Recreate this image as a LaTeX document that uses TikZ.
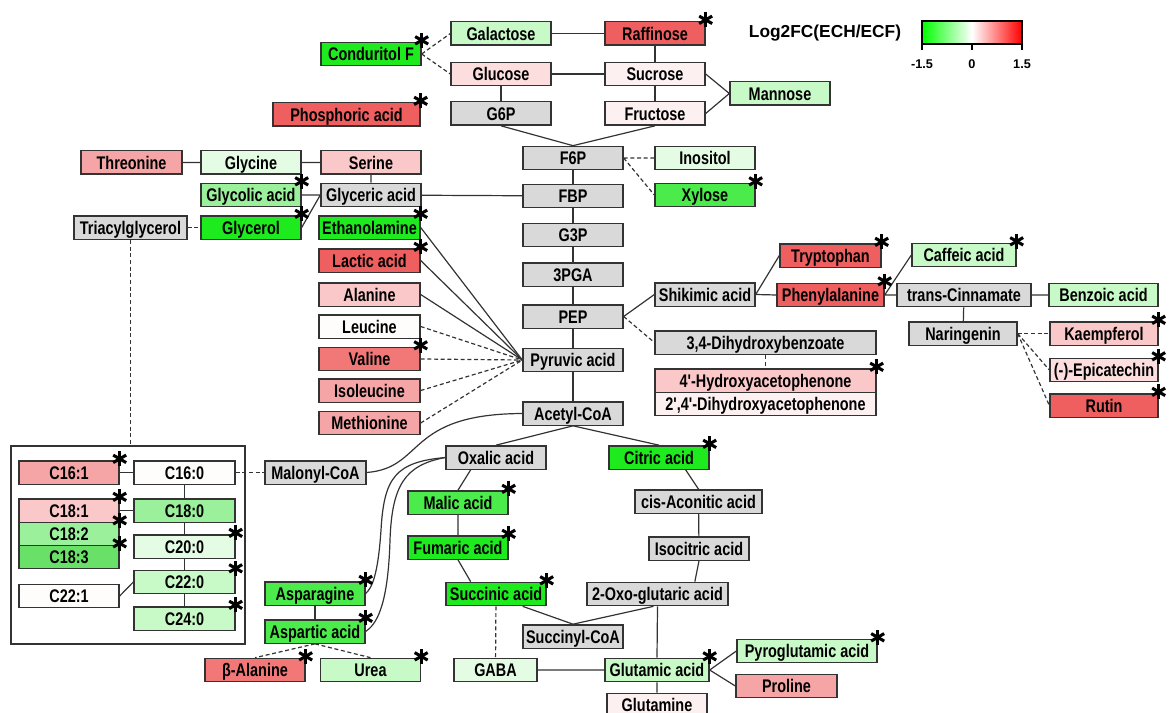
\documentclass[tikz,border=0pt]{standalone}
\usepackage{fontspec}
\setmainfont{Liberation Sans}
\newfontfamily\boxfont[FakeStretch=0.79]{Liberation Sans}

\definecolor{cgray}{RGB}{217,217,217}
\definecolor{gA}{RGB}{30,235,30}
\definecolor{gB}{RGB}{75,235,75}
\definecolor{gC}{RGB}{105,225,105}
\definecolor{gD}{RGB}{155,240,155}
\definecolor{gE}{RGB}{200,250,200}
\definecolor{gF}{RGB}{228,252,228}
\definecolor{rA}{RGB}{240,95,95}
\definecolor{rB}{RGB}{242,120,120}
\definecolor{rC}{RGB}{245,165,165}
\definecolor{rD}{RGB}{250,200,200}
\definecolor{rE}{RGB}{252,222,222}
\definecolor{rF}{RGB}{253,240,240}
\definecolor{wA}{RGB}{255,252,252}

\tikzset{
  mb/.style={draw=black!80, line width=1pt, inner sep=0pt, minimum width=75pt,
    minimum height=17.5pt, text height=9.8pt, text depth=0pt,
    font=\boxfont\bfseries\fontsize{13.7}{15}\selectfont},
  wd/.style={minimum width=#1*0.75pt},
  ln/.style={line width=0.9pt, black!80},
  dl/.style={ln, dash pattern=on 3pt off 2pt},
  sigline/.style={line width=2.3pt},
}
% significance mark at the upper right corner of a box
\newcommand{\sig}[1]{\foreach \a in {90,30,150}
  \draw[sigline] ([yshift=1pt]#1.north east) +(\a:7.5) -- +(\a+180:7.5);}

\begin{document}
\begin{tikzpicture}[x=0.75pt, y=-0.75pt]
  \clip (0,0) rectangle (1174,713);

  % Legend
  \node[font=\bfseries\fontsize{13}{15}\selectfont] (lgd) at (825,33) {Log2FC(ECH/ECF)};
  \shade[left color=green, right color=red, middle color=white] (922,21) rectangle (1022,44);
  \draw[line width=1pt] (922,21) rectangle (1022,44);
  \foreach \x/\lab in {922/-1.5, 972/0, 1022/1.5} {
    \draw[line width=1pt] (\x,44) -- (\x,50);
    \node[font=\bfseries\fontsize{9.5}{11}\selectfont] (t\x) at (\x,64) {\lab};
  }

  % Sugars
  \node[mb, fill=gE] (gal) at (501,33.5) {Galactose};
  \node[mb, fill=rA] (raf) at (655,33.5) {Raffinose};
  \node[mb, fill=gA] (cdf) at (371,54) {Conduritol F};
  \node[mb, fill=rE] (glc) at (501,74) {Glucose};
  \node[mb, fill=rF] (suc) at (655,74) {Sucrose};
  \node[mb, fill=gE] (man) at (780,93.5) {Mannose};
  \node[mb, fill=rA, wd=147] (pho) at (346.5,114.5) {Phosphoric acid};
  \node[mb, fill=cgray] (g6p) at (501,113.5) {G6P};
  \node[mb, fill=rF] (fru) at (655,113.5) {Fructose};

  % Glycolysis
  \node[mb, fill=cgray] (f6p) at (573,158) {F6P};
  \node[mb, fill=cgray] (fbp) at (573,196) {FBP};
  \node[mb, fill=cgray] (g3p) at (573,235) {G3P};
  \node[mb, fill=cgray] (pga) at (573,274.5) {3PGA};
  \node[mb, fill=cgray] (pep) at (573,316.5) {PEP};
  \node[mb, fill=cgray] (pyr) at (573,360) {Pyruvic acid};
  \node[mb, fill=cgray] (aco) at (573,413.5) {Acetyl-CoA};
  \node[mb, fill=gF] (ino) at (705,158) {Inositol};
  \node[mb, fill=gB] (xyl) at (705,195) {Xylose};

  % Amino acids, left side
  \node[mb, fill=rC, wd=101] (thr) at (131.5,162.5) {Threonine};
  \node[mb, fill=gF] (gly) at (251,162.5) {Glycine};
  \node[mb, fill=rD] (ser) at (371,162.5) {Serine};
  \node[mb, fill=gD] (gla) at (251,195) {Glycolic acid};
  \node[mb, fill=cgray] (gra) at (371,195) {Glyceric acid};
  \node[mb, fill=cgray, wd=113] (tag) at (130.5,227.5) {Triacylglycerol};
  \node[mb, fill=gA] (glo) at (251,227.5) {Glycerol};
  \node[mb, fill=gA, wd=101] (eta) at (369.5,227.5) {Ethanolamine};
  \node[mb, fill=rA, wd=101] (lac) at (369.5,260.5) {Lactic acid};
  \node[mb, fill=rD, wd=101] (ala) at (369.5,294.5) {Alanine};
  \node[mb, fill=wA, wd=101] (leu) at (369.5,326.5) {Leucine};
  \node[mb, fill=rB, wd=101] (val) at (369.5,359) {Valine};
  \node[mb, fill=rC, wd=101] (ile) at (369.5,390.5) {Isoleucine};
  \node[mb, fill=rC, wd=101] (met) at (369.5,423) {Methionine};

  % Shikimate and phenylpropanoids
  \node[mb, fill=rA, wd=101] (trp) at (830.5,255.5) {Tryptophan};
  \node[mb, fill=cgray] (shk) at (705,294.5) {Shikimic acid};
  \node[mb, fill=rA, wd=107] (phe) at (830.5,295) {Phenylalanine};
  \node[mb, fill=cgray, wd=221] (dhb) at (765.5,342.5) {3,4-Dihydroxybenzoate};
  \node[mb, fill=rD, wd=221] (hap) at (765.5,380.5) {4'-Hydroxyacetophenone};
  \node[mb, fill=rF, wd=221] (dhap) at (765.5,404) {2',4'-Dihydroxyacetophenone};
  \node[mb, fill=gE, wd=104] (caf) at (964,255) {Caffeic acid};
  \node[mb, fill=cgray, wd=134] (cin) at (964,295) {trans-Cinnamate};
  \node[mb, fill=gE, wd=109] (bza) at (1103.5,295) {Benzoic acid};
  \node[mb, fill=cgray, wd=108] (nar) at (963,333.5) {Naringenin};
  \node[mb, fill=rD, wd=108] (kae) at (1104,333.5) {Kaempferol};
  \node[mb, fill=rE, wd=108] (epi) at (1104,370) {(-)-Epicatechin};
  \node[mb, fill=rA, wd=108] (rut) at (1104,405.5) {Rutin};

  % Fatty acids
  \node[draw=black!80, line width=1pt, minimum width=175.5pt, minimum height=148.5pt] (fab) at (128,545) {};
  \node[mb, fill=rC] (c161) at (69,472.5) {C16:1};
  \node[mb, fill=wA, wd=101] (c160) at (184.5,472.5) {C16:0};
  \node[mb, fill=cgray, wd=101] (mal) at (315.5,472.5) {Malonyl-CoA};
  \node[mb, fill=rD] (c181) at (69,510.5) {C18:1};
  \node[mb, fill=gD, wd=101] (c180) at (184.5,510.5) {C18:0};
  \node[mb, fill=gD] (c182) at (69,534) {C18:2};
  \node[mb, fill=gC] (c183) at (69,557) {C18:3};
  \node[mb, fill=gF, wd=101] (c200) at (184.5,546.5) {C20:0};
  \node[mb, fill=gE, wd=101] (c220) at (184.5,582) {C22:0};
  \node[mb, fill=wA] (c221) at (69,596) {C22:1};
  \node[mb, fill=gE, wd=101] (c240) at (184.5,618.5) {C24:0};

  % TCA cycle
  \node[mb, fill=gB] (asn) at (315,593.5) {Asparagine};
  \node[mb, fill=gB] (asp) at (315,631.5) {Aspartic acid};
  \node[mb, fill=rB] (bal) at (255,670) {β-Alanine};
  \node[mb, fill=gE] (ure) at (370.5,670) {Urea};
  \node[mb, fill=cgray] (oxa) at (496,457.5) {Oxalic acid};
  \node[mb, fill=gA] (cit) at (659,457.5) {Citric acid};
  \node[mb, fill=gB] (mla) at (458,502.5) {Malic acid};
  \node[mb, fill=cgray, wd=127] (aco2) at (698.5,501.5) {cis-Aconitic acid};
  \node[mb, fill=gA] (fum) at (458,547.5) {Fumaric acid};
  \node[mb, fill=cgray] (ict) at (699,548.5) {Isocitric acid};
  \node[mb, fill=gA] (sca) at (496,594) {Succinic acid};
  \node[mb, fill=cgray, wd=141] (oxg) at (657.5,594) {2-Oxo-glutaric acid};
  \node[mb, fill=cgray] (sco) at (573,636.5) {Succinyl-CoA};
  \node[mb, fill=gF, wd=83] (gab) at (495.5,670) {GABA};
  \node[mb, fill=gE, wd=104] (glu) at (657,670) {Glutamic acid};
  \node[mb, fill=gE, wd=140] (pgl) at (807,651) {Pyroglutamic acid};
  \node[mb, fill=rC, wd=101] (pro) at (786.5,686) {Proline};
  \node[mb, fill=rF] (gln) at (657,705) {Glutamine};

  % Connections
  \draw[ln] (gal) -- (raf) (raf) -- (suc) (glc) -- (suc) (glc) -- (g6p) (suc) -- (fru);
  \draw[ln] (suc.east) -- (man.west) -- (fru.east);
  \draw[ln] (g6p.south) -- (f6p.north) -- (fru.south);
  \draw[ln] (f6p) -- (fbp) -- (g3p) -- (pga) -- (pep) -- (pyr) -- (aco);
  \draw[dl] (cdf.east) -- (gal.west) (cdf.east) -- (glc.west);
  \draw[dl] (f6p.east) -- (ino.west) (f6p.east) -- (xyl.west);
  \draw[ln] (thr) -- (gly) (gly) -- (ser) (ser) -- (gra) (gra) -- (fbp);
  \draw[ln] (gla.east) -- (gra.west) -- (glo.east);
  \draw[dl] (tag) -- (glo);
  \draw[dl] (tag.south) -- (tag.south |- fab.north);
  \foreach \m in {eta, lac, ala} \draw[ln] (\m.east) -- (pyr.west);
  \foreach \m in {leu, val, ile, met} \draw[dl] (\m.east) -- (pyr.west);
  \draw[ln] (pep.east) -- (shk.west);
  \draw[dl] (pep.east) -- (dhb.west);
  \draw[dl] (dhb) -- (hap);
  \draw[ln] (shk.east) -- (trp.west) (shk.east) -- (phe.west);
  \draw[ln] (phe.east) -- (caf.west) (phe.east) -- (cin.west);
  \draw[ln] (cin) -- (bza) (cin) -- (nar);
  \foreach \m in {kae, epi, rut} \draw[dl] (nar.east) -- (\m.west);
  \draw[ln] (c161) -- (c160) (c181) -- (c180);
  \draw[ln] (c160) -- (c180) -- (c200) -- (c220) -- (c240);
  \draw[ln] (c221.east) -- (c220.west);
  \draw[dl] (c160) -- (mal);
  \draw[ln] (mal.east) .. controls (425,468) and (405,414) .. (aco.west);
  \draw[ln] (oxa.west) .. controls (395,462) and (384,478) .. (381,530)
    .. controls (378,575) and (372,588) .. (asn.east);
  \draw[ln] (oxa.west) .. controls (405,465) and (392,485) .. (390,540)
    .. controls (388,610) and (375,625) .. (asp.east);
  \draw[ln] (asn) -- (asp);
  \draw[dl] (asp.south) -- (bal.north) (asp.south) -- (ure.north);
  \draw[ln] (aco.south) -- (oxa.north) (aco.south) -- (cit.north);
  \draw[ln] ([xshift=-19pt]oxa.south) -- (mla.north);
  \draw[ln] (mla) -- (fum) (fum.south) -- ([xshift=-19pt]sca.north);
  \draw[ln] ([xshift=20pt]sca.south) -- (sco.north) -- ([xshift=-3pt]oxg.south);
  \draw[ln] ([xshift=20pt]cit.south) -- (aco2.north) (aco2) -- (ict);
  \draw[ln] (ict.south) -- ([xshift=28pt]oxg.north);
  \draw[ln] (oxg.south) -- (glu.north) (glu) -- (gab) (glu) -- (gln);
  \draw[ln] (glu.east) -- (pgl.west) (glu.east) -- (pro.west);
  \draw[dl] (sca) -- (gab);

  % Significant changes
  \foreach \m in {cdf, raf, pho, gla, glo, eta, lac, val, xyl, trp, phe, caf, hap,
    kae, epi, rut, c161, c181, c182, c183, c200, c220, c240, asn, asp, bal, ure,
    cit, mla, fum, sca, glu, pgl} {\sig{\m}}
\end{tikzpicture}
\end{document}
